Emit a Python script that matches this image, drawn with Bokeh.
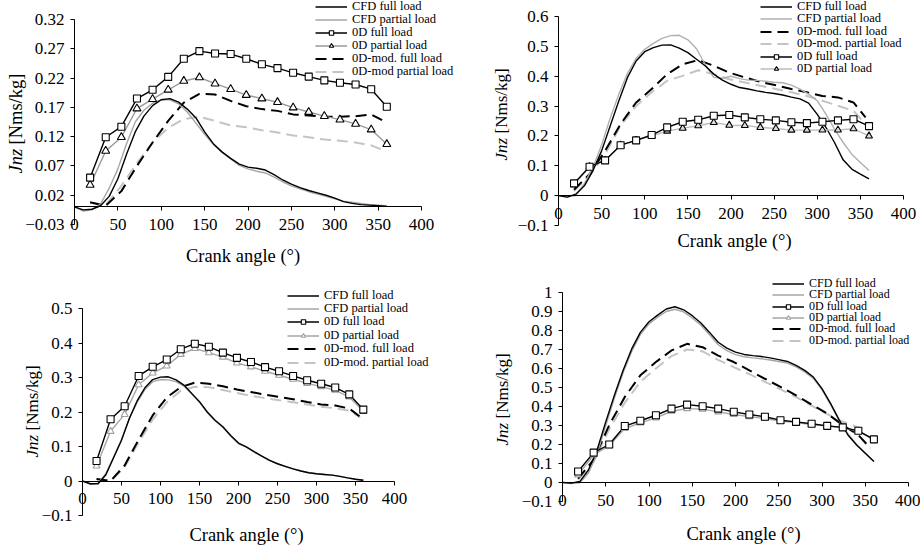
from math import pi
from bokeh.plotting import figure
from bokeh.layouts import column, row
from bokeh.models import (Range1d, FixedTicker, CustomJSTickFormatter, Legend,
                          LegendItem, Label)
from bokeh.embed import file_html
from bokeh.resources import INLINE

FONT = "Liberation Serif"

# ---------------- data ----------------
ANGLE_CFD = [0, 10, 20, 30, 40, 50, 60, 70, 80, 90, 100, 110, 120, 130, 140, 150,
             160, 170, 180, 190, 200, 210, 220, 230, 240, 250, 260, 270, 280, 290,
             300, 310, 320, 330, 340, 350, 360]
ANGLE_0D = [18, 36, 54, 72, 90, 108, 126, 144, 162, 180, 198, 216, 234, 252, 270,
            288, 306, 324, 342, 360]
ANGLE_MOD = [18, 36, 54, 72, 90, 108, 126, 144, 162, 180, 198, 216, 234, 252, 270,
             288, 306, 324, 342, 356]
ANGLE_MOD_P4 = [18, 36, 54, 72, 90, 108, 126, 144, 162, 180, 198, 216, 234, 252, 270,
                288, 306, 324, 342]
X_TICKS = [0, 50, 100, 150, 200, 250, 300, 350, 400]

# panel 1 (top left)
P1_Y_TICKS = [-0.03, 0.02, 0.07, 0.12, 0.17, 0.22, 0.27, 0.32]
P1_CFD_FULL = [0, -0.005, -0.004, 0.002, 0.018, 0.048, 0.09, 0.128, 0.155, 0.173, 0.183,
               0.185, 0.179, 0.167, 0.152, 0.128, 0.108, 0.094, 0.083, 0.073, 0.068, 0.066,
               0.063, 0.055, 0.046, 0.039, 0.033, 0.028, 0.024, 0.02, 0.015, 0.009, 0.006,
               0.004, 0.003, 0.002, 0.001]
P1_CFD_PART = [0, -0.007, -0.005, 0.005, 0.032, 0.065, 0.108, 0.145, 0.165, 0.177, 0.183,
               0.183, 0.176, 0.162, 0.143, 0.124, 0.107, 0.093, 0.082, 0.071, 0.065, 0.061,
               0.058, 0.051, 0.043, 0.036, 0.031, 0.026, 0.022, 0.018, 0.014, 0.01, 0.008,
               0.006, 0.004, 0.003, 0.002]
P1_0D_FULL = [0.050, 0.119, 0.137, 0.185, 0.200, 0.222, 0.253, 0.266, 0.262, 0.261, 0.253,
              0.2435, 0.237, 0.229, 0.2225, 0.216, 0.212, 0.209, 0.201, 0.171]
P1_0D_PART = [0.0376, 0.0956, 0.119, 0.168, 0.184, 0.200, 0.215, 0.221, 0.2105, 0.201, 0.191,
              0.185, 0.1787, 0.1696, 0.162, 0.155, 0.149, 0.1417, 0.132, 0.107]
P1_MOD_FULL = [0.008, 0.002, 0.027, 0.07, 0.11, 0.147, 0.178, 0.193, 0.192, 0.181, 0.172,
               0.167, 0.164, 0.158, 0.156, 0.154, 0.154, 0.155, 0.158, 0.147]
P1_MOD_PART = [0.007, 0.003, 0.036, 0.075, 0.11, 0.135, 0.15, 0.154, 0.147, 0.139, 0.136,
               0.131, 0.127, 0.122, 0.119, 0.115, 0.113, 0.11, 0.105, 0.097]

# panel 2 (top right)
P2_Y_TICKS = [-0.1, 0, 0.1, 0.2, 0.3, 0.4, 0.5, 0.6]
P2_CFD_FULL = [0, -0.005, 0.005, 0.033, 0.084, 0.15, 0.234, 0.318, 0.396, 0.451, 0.482,
               0.496, 0.504, 0.505, 0.494, 0.479, 0.457, 0.435, 0.407, 0.387, 0.373, 0.362,
               0.357, 0.351, 0.346, 0.342, 0.337, 0.33, 0.324, 0.31, 0.272, 0.229, 0.178,
               0.12, 0.089, 0.072, 0.056]
P2_CFD_PART = [0, -0.005, 0.0, 0.04, 0.095, 0.17, 0.26, 0.34, 0.41, 0.46, 0.49, 0.51,
               0.527, 0.536, 0.537, 0.522, 0.492, 0.44, 0.396, 0.393, 0.4, 0.392, 0.387,
               0.386, 0.383, 0.38, 0.378, 0.37, 0.357, 0.34, 0.318, 0.273, 0.223, 0.178,
               0.139, 0.111, 0.084]
P2_0D_FULL = [0.041, 0.097, 0.118, 0.169, 0.185, 0.203, 0.2285, 0.2475, 0.254, 0.2675, 0.27,
              0.262, 0.256, 0.252, 0.246, 0.243, 0.2475, 0.252, 0.256, 0.233]
P2_0D_PART = [0.037, 0.097, 0.118, 0.169, 0.185, 0.2, 0.216, 0.226, 0.234, 0.245, 0.236,
              0.235, 0.2285, 0.225, 0.2195, 0.2195, 0.22, 0.22, 0.224, 0.2]
P2_MOD_FULL = [0.02, 0.072, 0.15, 0.24, 0.312, 0.357, 0.407, 0.44, 0.454, 0.435, 0.412,
               0.396, 0.381, 0.37, 0.357, 0.346, 0.334, 0.329, 0.312, 0.262]
P2_MOD_PART = [0.015, 0.068, 0.139, 0.234, 0.3, 0.346, 0.385, 0.401, 0.42, 0.407, 0.39,
               0.379, 0.368, 0.357, 0.346, 0.334, 0.318, 0.301, 0.284, 0.24]

# panel 3 (bottom left)
P3_Y_TICKS = [-0.1, 0, 0.1, 0.2, 0.3, 0.4, 0.5]
P3_CFD_FULL = [0, -0.008, -0.008, 0.018, 0.068, 0.118, 0.181, 0.232, 0.27, 0.294, 0.301,
               0.302, 0.293, 0.278, 0.254, 0.23, 0.2, 0.176, 0.157, 0.132, 0.11, 0.099,
               0.085, 0.072, 0.06, 0.05, 0.0425, 0.035, 0.029, 0.024, 0.021, 0.019, 0.017,
               0.0135, 0.009, 0.005, 0.002]
P3_CFD_PART = [0, -0.01, -0.006, 0.022, 0.07, 0.12, 0.18, 0.228, 0.265, 0.288, 0.294,
               0.293, 0.288, 0.275, 0.252, 0.228, 0.198, 0.174, 0.155, 0.13, 0.108, 0.098,
               0.084, 0.071, 0.059, 0.05, 0.042, 0.035, 0.029, 0.024, 0.021, 0.019, 0.017,
               0.0135, 0.009, 0.005, 0.002]
P3_0D_FULL = [0.058, 0.179, 0.2165, 0.3045, 0.331, 0.352, 0.382, 0.398, 0.389, 0.372, 0.357,
              0.345, 0.33, 0.318, 0.3045, 0.292, 0.282, 0.271, 0.251, 0.207]
P3_0D_PART = [0.0435, 0.144, 0.193, 0.279, 0.313, 0.3335, 0.367, 0.384, 0.372, 0.359, 0.342,
              0.331, 0.318, 0.3065, 0.295, 0.283, 0.2735, 0.263, 0.2435, 0.202]
P3_MOD_FULL = [0.006, 0.0, 0.045, 0.12, 0.19, 0.242, 0.272, 0.285, 0.282, 0.2745, 0.265,
               0.258, 0.25, 0.2435, 0.237, 0.229, 0.222, 0.219, 0.21, 0.186]
P3_MOD_PART = [0.005, 0.0, 0.04, 0.112, 0.178, 0.228, 0.262, 0.273, 0.272, 0.264, 0.255,
               0.247, 0.24, 0.234, 0.228, 0.222, 0.215, 0.211, 0.204, 0.184]

# panel 4 (bottom right)
P4_Y_TICKS = [-0.1, 0, 0.1, 0.2, 0.3, 0.4, 0.5, 0.6, 0.7, 0.8, 0.9, 1.0]
P4_CFD_FULL = [0, -0.003, 0.005, 0.066, 0.171, 0.319, 0.459, 0.59, 0.703, 0.79, 0.846,
               0.881, 0.913, 0.925, 0.909, 0.878, 0.839, 0.79, 0.738, 0.707, 0.686, 0.674,
               0.668, 0.663, 0.656, 0.647, 0.637, 0.616, 0.59, 0.555, 0.494, 0.415, 0.328,
               0.25, 0.197, 0.154, 0.11]
P4_CFD_PART = [0, -0.005, -0.002, 0.05, 0.15, 0.3, 0.445, 0.578, 0.69, 0.778, 0.835, 0.87,
               0.9, 0.912, 0.898, 0.866, 0.828, 0.778, 0.725, 0.694, 0.673, 0.662, 0.656,
               0.651, 0.645, 0.637, 0.628, 0.608, 0.582, 0.548, 0.488, 0.41, 0.326, 0.255,
               0.2, 0.155, 0.112]
P4_0D_FULL = [0.058, 0.157, 0.2, 0.297, 0.325, 0.354, 0.389, 0.41, 0.401, 0.389, 0.372,
              0.358, 0.346, 0.328, 0.319, 0.309, 0.298, 0.29, 0.272, 0.227]
P4_0D_PART = [0.04, 0.145, 0.194, 0.284, 0.314, 0.34, 0.375, 0.389, 0.386, 0.372, 0.358,
              0.347, 0.337, 0.323, 0.316, 0.305, 0.297, 0.288, 0.272, 0.223]
P4_MOD_FULL = [0.02, 0.12, 0.302, 0.45, 0.564, 0.634, 0.695, 0.73, 0.712, 0.668, 0.634,
               0.59, 0.546, 0.503, 0.459, 0.41, 0.363, 0.302, 0.25, 0.18]
P4_MOD_PART = [0.015, 0.11, 0.28, 0.42, 0.53, 0.6, 0.665, 0.7, 0.69, 0.645, 0.607, 0.57,
               0.53, 0.49, 0.45, 0.405, 0.36, 0.32, 0.29]

# legend labels
LBL_CFD_FULL = "CFD full load"
LBL_CFD_PART = "CFD partial load"
LBL_0D_FULL = "0D full load"
LBL_0D_PART = "0D partial load"
LBL_MOD_FULL = "0D-mod. full load"
LBL_MOD_PART_A = "0D-mod partial load"
LBL_MOD_PART = "0D-mod. partial load"
X_TITLE = "Crank angle (\u00b0)"

FMT_CODE = """
const v = Math.round(tick * 100) / 100;
const s = v.toString();
return s.replace('-', '\\u2212');
"""

ITEM_H = 15   # height that the legend gives one row of 12px text


def make_panel(size, box, yr, yticks, data, styles, order, legend_cfg,
               xtitle_pos, ytitle_cfg):
    fw, fh = size
    left, right, top, bottom = box           # pixel box of the axes, figure-local
    ymin, ymax = yr
    sx = (right - left) / 400.0
    sy = (bottom - top) / (ymax - ymin)
    xr = Range1d(-left / sx, (fw - left) / sx)
    yrng = Range1d(ymin - (fh - bottom) / sy, ymax + top / sy)
    p = figure(width=fw, height=fh, x_range=xr, y_range=yrng,
               output_backend="svg", toolbar_location=None,
               min_border=0, min_border_left=0, min_border_right=0,
               min_border_top=0, min_border_bottom=0)
    p.outline_line_color = None
    p.xgrid.visible = False
    p.ygrid.visible = False
    p.background_fill_color = "white"
    p.border_fill_color = "white"

    xa = p.xaxis[0]
    xa.fixed_location = 0
    xa.bounds = (0, 400)
    xa.ticker = FixedTicker(ticks=X_TICKS)
    ya = p.yaxis[0]
    ya.fixed_location = 0
    ya.bounds = (ymin, ymax)
    ya.ticker = FixedTicker(ticks=yticks)
    ya.formatter = CustomJSTickFormatter(code=FMT_CODE)
    for ax in (xa, ya):
        ax.major_tick_out = 4
        ax.major_tick_in = 0
        ax.minor_tick_out = 0
        ax.minor_tick_in = 0
        ax.axis_line_color = "black"
        ax.axis_line_width = 1
        ax.major_tick_line_color = "black"
        ax.major_label_text_font = FONT
        ax.major_label_text_font_size = "17px"
        ax.major_label_text_color = "black"
    xa.major_label_standoff = 8
    ya.major_label_standoff = 6

    (cfd_full, cfd_part, od_full, od_part, mod_full, mod_part, mod_part_x) = data
    st = styles
    rends = {}
    rends["mod_part"] = [p.line(mod_part_x, mod_part, line_color=st["mod_part"],
                                line_width=2, line_dash="11 6")]
    rends["mod_full"] = [p.line(ANGLE_MOD, mod_full, line_color="black",
                                line_width=2, line_dash="11 6")]
    rends["cfd_part"] = [p.line(ANGLE_CFD, cfd_part, line_color=st["cfd_part"], line_width=1.4)]
    rends["cfd_full"] = [p.line(ANGLE_CFD, cfd_full, line_color="black", line_width=1.4)]
    lp = p.line(ANGLE_0D, od_part, line_color=st["od_part_line"], line_width=1.4)
    lf = p.line(ANGLE_0D, od_full, line_color="black", line_width=1.4)
    mp = p.scatter(ANGLE_0D, od_part, marker="triangle", size=st["tri_size"],
                   line_color=st["tri_line"], fill_color=st["tri_fill"], line_width=1.1)
    mf = p.scatter(ANGLE_0D, od_full, marker="square", size=st["sq_size"],
                   line_color="black", fill_color="white", line_width=1.1)
    rends["od_part"] = [lp, mp]
    rends["od_full"] = [lf, mf]

    labels = {"cfd_full": LBL_CFD_FULL, "cfd_part": LBL_CFD_PART,
              "od_full": LBL_0D_FULL, "od_part": LBL_0D_PART,
              "mod_full": LBL_MOD_FULL, "mod_part": st["mod_part_label"]}
    gl, first_center, pitch, fs = legend_cfg
    # one legend per row, so that the row pitch of the reference can be matched
    for i, k in enumerate(order):
        center = first_center + i * pitch
        lbottom = center + ITEM_H / 2
        legend = Legend(items=[LegendItem(label=labels[k], renderers=rends[k])],
                        location=(gl, fh - lbottom), background_fill_alpha=0,
                        border_line_alpha=0, padding=0, margin=0, spacing=0,
                        glyph_width=32, glyph_height=11, label_height=11,
                        label_standoff=5, label_text_font=FONT,
                        label_text_font_size=fs, label_text_color="black")
        p.add_layout(legend)

    tx, ty = xtitle_pos
    p.add_layout(Label(x=tx, y=fh - ty, x_units="screen", y_units="screen", text=X_TITLE,
                       text_font=FONT, text_font_size="18.5px", text_align="center",
                       text_baseline="middle", text_color="black"))
    yx, ybot, fsz, gap = ytitle_cfg
    p.add_layout(Label(x=yx, y=fh - ybot, x_units="screen", y_units="screen", text="Jnz",
                       text_font=FONT, text_font_size=fsz, text_font_style="italic",
                       angle=pi / 2, text_align="left", text_baseline="middle",
                       text_color="black"))
    p.add_layout(Label(x=yx, y=fh - ybot + gap, x_units="screen", y_units="screen",
                       text="[Nms/kg]", text_font=FONT, text_font_size=fsz,
                       angle=pi / 2, text_align="left", text_baseline="middle",
                       text_color="black"))
    return p


p1 = make_panel(
    (460, 270), (74, 421, 19, 224), (-0.03, 0.32), P1_Y_TICKS,
    (P1_CFD_FULL, P1_CFD_PART, P1_0D_FULL, P1_0D_PART, P1_MOD_FULL, P1_MOD_PART, ANGLE_MOD),
    dict(cfd_part="#a6a6a6", od_part_line="#999999", tri_line="black", tri_fill="white",
         tri_size=8, sq_size=7, mod_part="#c4c4c4", mod_part_label=LBL_MOD_PART_A),
    ["cfd_full", "cfd_part", "od_full", "od_part", "mod_full", "mod_part"],
    (315, 6.5, 12.9, "12.5px"), (242.5, 255), (15, 173, "18.5px", 29))

p2 = make_panel(
    (460, 270), (98, 443, 16, 225), (-0.1, 0.6), P2_Y_TICKS,
    (P2_CFD_FULL, P2_CFD_PART, P2_0D_FULL, P2_0D_PART, P2_MOD_FULL, P2_MOD_PART, ANGLE_MOD),
    dict(cfd_part="#b0b0b0", od_part_line="#bdbdbd", tri_line="black", tri_fill="#dddddd",
         tri_size=7, sq_size=7, mod_part="#c4c4c4", mod_part_label=LBL_MOD_PART),
    ["cfd_full", "cfd_part", "mod_full", "mod_part", "od_full", "od_part"],
    (300, 6.5, 12.4, "12.5px"), (274, 240.5), (41, 160, "17px", 27))

p3 = make_panel(
    (460, 275), (82, 394, 38, 245), (-0.1, 0.5), P3_Y_TICKS,
    (P3_CFD_FULL, P3_CFD_PART, P3_0D_FULL, P3_0D_PART, P3_MOD_FULL, P3_MOD_PART, ANGLE_MOD),
    dict(cfd_part="#a6a6a6", od_part_line="#a6a6a6", tri_line="#a0a0a0", tri_fill="white",
         tri_size=7, sq_size=7, mod_part="#c4c4c4", mod_part_label=LBL_MOD_PART),
    ["cfd_full", "cfd_part", "od_full", "od_part", "mod_full", "mod_part"],
    (287, 25, 13.45, "12.5px"), (246, 264), (32, 187, "17px", 27))

p4 = make_panel(
    (460, 275), (102, 448, 22, 231), (-0.1, 1.0), P4_Y_TICKS,
    (P4_CFD_FULL, P4_CFD_PART, P4_0D_FULL, P4_0D_PART, P4_MOD_FULL, P4_MOD_PART, ANGLE_MOD_P4),
    dict(cfd_part="#a6a6a6", od_part_line="#a6a6a6", tri_line="#a0a0a0", tri_fill="white",
         tri_size=7, sq_size=7, mod_part="#c4c4c4", mod_part_label=LBL_MOD_PART),
    ["cfd_full", "cfd_part", "od_full", "od_part", "mod_full", "mod_part"],
    (312, 13.3, 11.35, "12px"), (283, 263), (42, 175, "17px", 27))

layout = column(row(p1, p2, spacing=0), row(p3, p4, spacing=0), spacing=0)
open("out.html", "w").write(file_html(layout, INLINE))
